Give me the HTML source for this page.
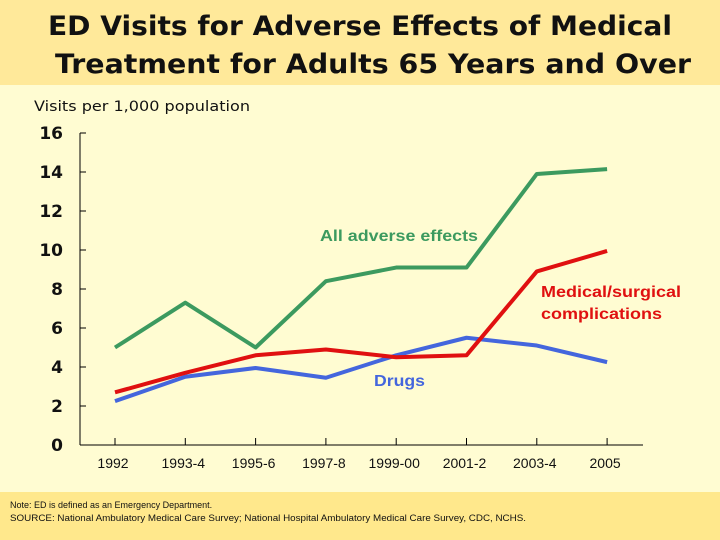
<!DOCTYPE html>
<html><head><meta charset="utf-8"><style>
html,body{margin:0;padding:0;background:#FFFCD2;}
svg{display:block;font-family:"Liberation Sans","DejaVu Sans",sans-serif;}
</style></head><body>
<svg id="c" width="720" height="540" viewBox="0 0 720 540">
<rect x="0" y="0" width="720" height="540" fill="#FFFCD2"/>
<rect x="0" y="0" width="720" height="85" fill="#FFE99A"/>
<rect x="0" y="492" width="720" height="48" fill="#FFE88C"/>
<text x="360" y="35" text-anchor="middle" font-family="DejaVu Sans, sans-serif" font-size="27" font-weight="bold" fill="#111" textLength="624" lengthAdjust="spacingAndGlyphs">ED Visits for Adverse Effects of Medical</text>
<text x="373" y="73" text-anchor="middle" font-family="DejaVu Sans, sans-serif" font-size="27" font-weight="bold" fill="#111" textLength="636" lengthAdjust="spacingAndGlyphs">Treatment for Adults 65 Years and Over</text>
<text x="34" y="111" font-family="DejaVu Sans, sans-serif" font-size="14" fill="#111" textLength="216" lengthAdjust="spacingAndGlyphs">Visits per 1,000 population</text>
<text x="10" y="508" font-size="9" fill="#111">Note: ED is defined as an Emergency Department.</text>
<text x="10" y="521" font-size="9" fill="#111" textLength="516" lengthAdjust="spacingAndGlyphs">SOURCE: National Ambulatory Medical Care Survey;  National Hospital Ambulatory Medical Care Survey, CDC, NCHS.</text>
<g id="axes"></g>
<g id="series"></g>
<text x="320" y="241" font-size="16" font-weight="bold" fill="#3C9A5F" textLength="158" lengthAdjust="spacingAndGlyphs">All adverse effects</text>
<text x="541" y="297" font-size="16" font-weight="bold" fill="#E01010" textLength="140" lengthAdjust="spacingAndGlyphs">Medical/surgical</text>
<text x="541" y="319" font-size="16" font-weight="bold" fill="#E01010" textLength="121" lengthAdjust="spacingAndGlyphs">complications</text>
<text x="374" y="386" font-size="16" font-weight="bold" fill="#4466DD" textLength="51" lengthAdjust="spacingAndGlyphs">Drugs</text>
</svg>
<script>
const categories = ["1992","1993-4","1995-6","1997-8","1999-00","2001-2","2003-4","2005"];
const allAdverse = [5.0,7.3,5.0,8.4,9.1,9.1,13.9,14.15];
const medicalSurgical = [2.7,3.7,4.6,4.9,4.5,4.6,8.9,9.95];
const drugs = [2.25,3.5,3.95,3.45,4.6,5.5,5.1,4.25];
const yTicks = [0,2,4,6,8,10,12,14,16];
const NS = "http://www.w3.org/2000/svg";
const xPos = i => 115 + i*70.3;
const yPos = v => 445 - v*19.5;
const ax = document.getElementById('axes');
function mk(tag, attrs, parent){const e=document.createElementNS(NS,tag);for(const k in attrs)e.setAttribute(k,attrs[k]);parent.appendChild(e);return e;}
let l = mk('line',{x1:80,y1:yPos(16),x2:80,y2:445,stroke:'#000','stroke-width':1},ax);


l = mk('line',{x1:80,y1:445,x2:643,y2:445,stroke:'#000','stroke-width':1},ax);


yTicks.forEach(v=>{
  const t = mk('line',{x1:80,y1:yPos(v),x2:86,y2:yPos(v),stroke:'#000'},ax);
  
  
  const tx = mk('text',{x:63,y:yPos(v)+6,'text-anchor':'end','font-size':17,'font-weight':'bold','font-family':'DejaVu Sans, sans-serif',fill:'#111'},ax);
  tx.textContent = v;
  
  
});
categories.forEach((c,i)=>{
  const t = mk('line',{x1:xPos(i),y1:438,x2:xPos(i),y2:445,stroke:'#000'},ax);
  
  
  const tx = mk('text',{x:xPos(i)-2,y:468,'text-anchor':'middle','font-size':14,fill:'#111'},ax);
  tx.textContent = c;
  
  
});
const sg = document.getElementById('series');
function line(vals,color,name){
  const p = mk('polyline',{points:vals.map((v,i)=>xPos(i)+','+yPos(v)).join(' '),fill:'none',stroke:color,'stroke-width':4,'stroke-linejoin':'round'},sg);
  
  
}
line(drugs,'#4466DD','drugs-line');
line(medicalSurgical,'#E01010','medical-surgical-line');
line(allAdverse,'#3C9A5F','all-adverse-effects-line');
</script>
</body></html>
